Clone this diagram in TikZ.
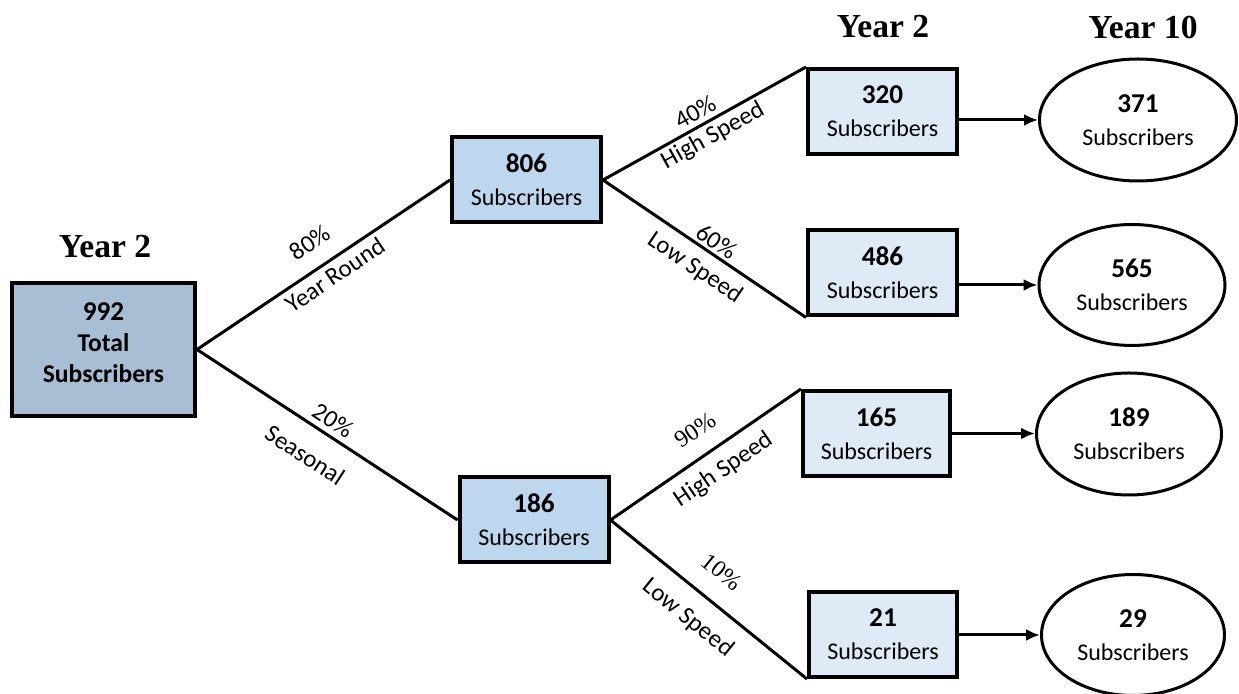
\documentclass[tikz,border=0pt]{standalone}
\usepackage{fontspec}
\setmainfont{Carlito}
\newfontfamily\tnr{Liberation Serif}
\usetikzlibrary{shapes.geometric,arrows.meta}
\definecolor{rootfill}{RGB}{168,190,212}
\definecolor{midfill}{RGB}{189,215,238}
\definecolor{leaffill}{RGB}{222,235,247}
\newcommand{\numtxt}[1]{{\bfseries\fontsize{13.6}{16.5}\selectfont #1}}
\begin{document}
\begin{tikzpicture}[x=0.5pt,y=-0.5pt,
  box/.style={draw=black, line width=2pt, rectangle, inner sep=0pt, align=center, font=\fontsize{12}{16.5}\selectfont},
  rootbox/.style={box, fill=rootfill, minimum width=91.5pt, minimum height=66.5pt},
  roottext/.style={align=center, inner sep=0pt, font=\bfseries\fontsize{12.8}{15.5}\selectfont},
  midbox/.style={box, fill=midfill, minimum width=74.5pt, minimum height=42.5pt},
  leafbox/.style={box, fill=leaffill, minimum width=74.5pt, minimum height=42.5pt},
  oval/.style={ellipse, draw=black, line width=1.5pt, fill=white, inner sep=0pt, align=center, font=\fontsize{12}{16.5}\selectfont},
  branch/.style={line width=1.5pt},
  flow/.style={line width=1.5pt, -{Latex[length=7pt,width=6pt]}},
  lbl/.style={font=\fontsize{12.4}{14}\selectfont, inner sep=0pt},
  tlbl/.style={font=\tnr\fontsize{12}{14}\selectfont, inner sep=0pt},
  year/.style={font=\tnr\bfseries\fontsize{16.8}{18}\selectfont, inner sep=0pt}
]
\useasboundingbox (0,0) rectangle (1239,694);

% year headings
\node[year] (y2a) at (105,247) {Year 2};
\node[year] (y2b) at (883,27) {Year 2};
\node[year] (y10) at (1143,27) {Year 10};

% boxes
\node[rootbox] (root) at (103.5,349.5) {};
\node[roottext] (roottxt) at ([yshift=3.5pt]root.center) {\fontsize{13.6}{15.5}\selectfont 992\\Total\\Subscribers};
\node[midbox] (b806) at (526.5,180) {\numtxt{806}\\Subscribers};
\node[midbox] (b186) at (534,520) {\numtxt{186}\\Subscribers};
\node[leafbox] (b320) at (882.5,111.5) {\numtxt{320}\\Subscribers};
\node[leafbox] (b486) at (882.5,273) {\numtxt{486}\\Subscribers};
\node[leafbox, minimum width=73.5pt] (b165) at (876.5,433.5) {\numtxt{165}\\Subscribers};
\node[leafbox, minimum width=74pt] (b21) at (883,634.5) {\numtxt{21}\\Subscribers};

% ovals
\node[oval, minimum width=98.5pt, minimum height=61pt] (e371) at (1138,120) {\numtxt{371}\\Subscribers};
\node[oval, minimum width=93pt, minimum height=60.5pt] (e565) at (1132,285) {\numtxt{565}\\Subscribers};
\node[oval, minimum width=92.5pt, minimum height=61pt] (e189) at (1129,434) {\numtxt{189}\\Subscribers};
\node[oval, minimum width=91.5pt, minimum height=60.5pt] (e29) at (1133,635) {\numtxt{29}\\Subscribers};

% branches
\draw[branch] (root.east) -- (b806.west);
\draw[branch] (root.east) -- (b186.west);
\draw[branch] (b806.east) -- (b320.north west);
\draw[branch] (b806.east) -- (b486.south west);
\draw[branch] (b186.east) -- (b165.north west);
\draw[branch] (b186.east) -- (b21.south west);

% flows
\draw[flow] (b320.east |- e371.west) -- (e371.west);
\draw[flow] (b486.east |- e565.west) -- (e565.west);
\draw[flow] (b165.east) -- (b165.east -| e189.west);
\draw[flow] (b21.east |- e29.west) -- (e29.west);

% branch labels
\node[lbl, rotate=34] (l80) at (310,243) {80\%};
\node[lbl, rotate=34] (lyr) at (335,275) {Year Round};
\node[lbl, rotate=-33] (l20) at (333,420) {20\%};
\node[lbl, rotate=-33] (lse) at (305,455) {Seasonal};
\node[lbl, rotate=29] (l40) at (695,112) {40\%};
\node[lbl, rotate=29] (lhs1) at (713,136) {High Speed};
\node[lbl, rotate=-34] (l60) at (717,242) {60\%};
\node[lbl, rotate=-34] (lls1) at (695,268) {Low Speed};
\node[tlbl, rotate=34] (l90) at (695,430) {90\%};
\node[lbl, rotate=34] (lhs2) at (724,470) {High Speed};
\node[tlbl, rotate=-39] (l10) at (722,572) {10\%};
\node[lbl, rotate=-39] (lls2) at (688,618) {Low Speed};
\end{tikzpicture}
\end{document}
